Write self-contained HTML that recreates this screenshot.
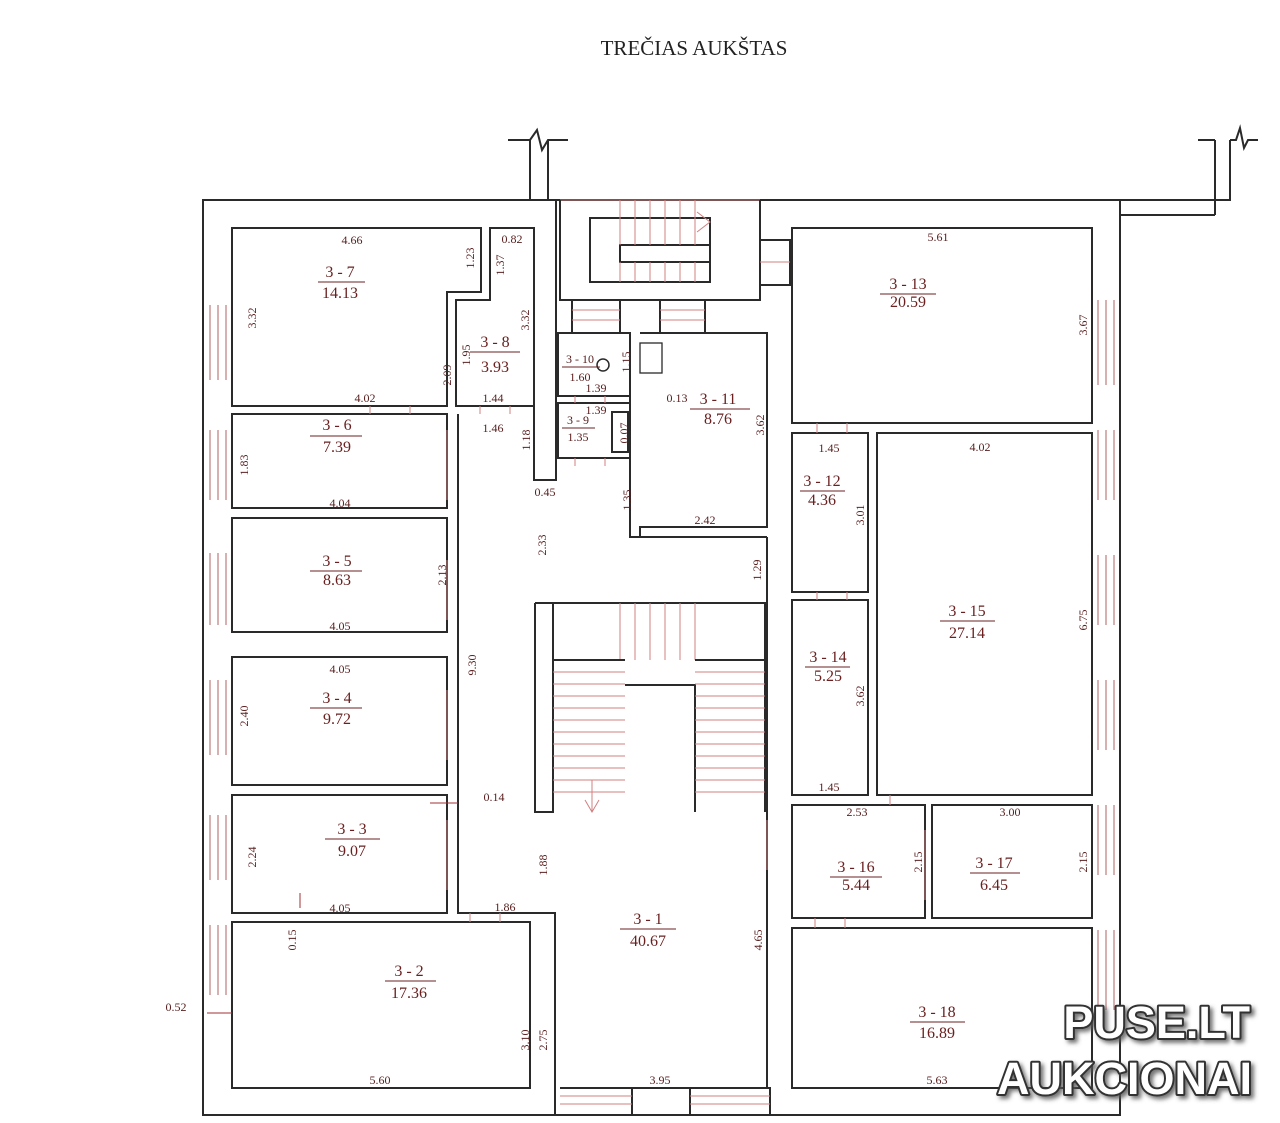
<!DOCTYPE html>
<html><head><meta charset="utf-8"><style>
body{margin:0;background:#fff;width:1280px;height:1123px;overflow:hidden}
svg{display:block}
.w{fill:none;stroke:#2a2a2a;stroke-width:2}
.r{fill:none;stroke:#d08080;stroke-width:1}
.t{font-family:"Liberation Serif",serif;font-size:16px;fill:#6a2020;text-anchor:middle}
.d{font-family:"Liberation Serif",serif;font-size:12px;fill:#5a2020;text-anchor:middle}
.wm{font-family:"Liberation Sans",sans-serif;font-weight:bold;font-size:45px;fill:#fff;stroke:#333;stroke-width:4;stroke-linejoin:round;paint-order:stroke;text-anchor:end}
</style></head><body>
<svg width="1280" height="1123" viewBox="0 0 1280 1123">
<defs><filter id="sh" x="-10%" y="-10%" width="130%" height="140%"><feDropShadow dx="3" dy="3" stdDeviation="2" flood-color="#555" flood-opacity="0.8"/></filter></defs>
<text x="694" y="55" style="font-family:'Liberation Serif',serif;font-size:21px;fill:#222" text-anchor="middle">TREČIAS AUKŠTAS</text>
<path class="w" d="M530 200V140M548 200V140M508 140H530L537 130L542 150L548 140H568"/>
<path class="w" d="M1120 200H1230V140M1120 215H1215M1230 140H1236L1240 128L1244 148L1248 140H1258M1215 140V215M1198 140H1215"/>
<path class="w" d="M203 200H1120V1115H203Z"/>
<path class="r" d="M560 200H760"/>
<path class="w" d="M232 228H481V292H447V406H232Z"/>
<path class="w" d="M490 228H534V406H456V300H490Z"/>
<path class="w" d="M534 228V480H556V200"/>
<rect class="w" x="232" y="414" width="215" height="94"/>
<rect class="w" x="232" y="518" width="215" height="114"/>
<rect class="w" x="232" y="657" width="215" height="128"/>
<rect class="w" x="232" y="795" width="215" height="118"/>
<path class="w" d="M458 414V913H555V1115M232 922H530V1088H232Z"/>
<path class="w" d="M560 200V300H760V200M590 218H710V282H590ZM620 245H710V262H620Z"/>
<path class="r" d="M620 200V245M635 200V245M650 200V245M665 200V245M680 200V245M695 200V245M620 262V282M635 262V282M650 262V282M665 262V282M680 262V282M695 262V282M697 212L710 222L697 232"/>
<path class="w" d="M760 240H790V285H760"/><path class="r" d="M760 262H790"/>
<path class="w" d="M572 300V333M620 300V333M660 300V333M705 300V333"/>
<path class="r" d="M572 310H620M572 320H620M660 310H705M660 320H705"/>
<rect class="w" x="558" y="333" width="72" height="63"/>
<rect class="w" x="558" y="403" width="72" height="55"/>
<rect class="w" x="612" y="412" width="16" height="40"/>
<circle class="w" cx="603" cy="365" r="6" style="stroke-width:1.5"/>
<rect class="w" x="640" y="343" width="22" height="30" style="stroke-width:1.3"/>
<path class="w" d="M640 333H767V527H640V537H767"/>
<path class="w" d="M630 396V537H640"/>
<path class="w" d="M535 603H765V812M535 603V812H553V603M625 685H695V812"/>
<path class="r" d="M553 660H625M553 672H625M553 684H625M553 696H625M553 708H625M553 720H625M553 732H625M553 744H625M553 756H625M553 768H625M553 780H625M553 792H625M695 660H765M695 672H765M695 684H765M695 696H765M695 708H765M695 720H765M695 732H765M695 744H765M695 756H765M695 768H765M695 780H765M695 792H765M620 603V660M635 603V660M650 603V660M665 603V660M680 603V660M695 603V660M585 800L592 812L599 800M592 780V812"/>
<path class="w" d="M553 660H625M695 660H765"/>
<path class="w" d="M560 1088H770V1115M632 1088V1115M690 1088V1115"/>
<path class="r" d="M560 1096H632M560 1104H632M690 1096H770M690 1104H770"/>
<path class="w" d="M767 537V1088"/>
<rect class="w" x="792" y="228" width="300" height="195"/>
<rect class="w" x="792" y="433" width="76" height="159"/>
<rect class="w" x="792" y="600" width="76" height="195"/>
<rect class="w" x="877" y="433" width="215" height="362"/>
<rect class="w" x="792" y="805" width="133" height="113"/>
<rect class="w" x="932" y="805" width="160" height="113"/>
<rect class="w" x="792" y="928" width="300" height="160"/>
<g class="r" style="stroke:#b06060">
<path d="M210 305V380M218 305V380M226 305V380M210 430V500M218 430V500M226 430V500M210 553V625M218 553V625M226 553V625M210 680V755M218 680V755M226 680V755M210 815V880M218 815V880M226 815V880M210 925V995M218 925V995M226 925V995"/>
<path d="M1098 300V385M1106 300V385M1114 300V385M1098 430V500M1106 430V500M1114 430V500M1098 555V625M1106 555V625M1114 555V625M1098 680V750M1106 680V750M1114 680V750M1098 805V875M1106 805V875M1114 805V875M1098 930V1010M1106 930V1010M1114 930V1010"/>
</g>
<path class="r" d="M370 406V414M410 406V414M480 406V414M510 406V414M447 430V500M447 560V620M447 690V760M447 820V890M470 913V922M500 913V922M767 820V870M817 423V433M847 423V433M817 592V600M847 592V600M890 795V805M815 918V928M845 918V928M925 830V900M575 396V403M605 396V403M575 458V466M605 458V466"/>
<g class="t">
<text x="340" y="277">3 - 7</text><text x="340" y="298">14.13</text>
<text x="495" y="347">3 - 8</text><text x="495" y="372">3.93</text>
<text x="337" y="430">3 - 6</text><text x="337" y="452">7.39</text>
<text x="337" y="566">3 - 5</text><text x="337" y="585">8.63</text>
<text x="337" y="703">3 - 4</text><text x="337" y="724">9.72</text>
<text x="352" y="834">3 - 3</text><text x="352" y="856">9.07</text>
<text x="409" y="976">3 - 2</text><text x="409" y="998">17.36</text>
<text x="648" y="924">3 - 1</text><text x="648" y="946">40.67</text>
<text x="718" y="404">3 - 11</text><text x="718" y="424">8.76</text>
<text x="908" y="289">3 - 13</text><text x="908" y="307">20.59</text>
<text x="822" y="486">3 - 12</text><text x="822" y="505">4.36</text>
<text x="967" y="616">3 - 15</text><text x="967" y="638">27.14</text>
<text x="828" y="662">3 - 14</text><text x="828" y="681">5.25</text>
<text x="856" y="872">3 - 16</text><text x="856" y="890">5.44</text>
<text x="994" y="868">3 - 17</text><text x="994" y="890">6.45</text>
<text x="937" y="1017">3 - 18</text><text x="937" y="1038">16.89</text>
</g>
<g class="d">
<text x="580" y="363">3 - 10</text><text x="580" y="381">1.60</text>
<text x="578" y="424">3 - 9</text><text x="578" y="441">1.35</text>
</g>
<path stroke="#6a2020" stroke-width="1" d="M318 282H365M470 352H520M310 436H362M310 571H362M310 708H362M325 839H380M385 981H436M620 929H676M690 409H750M880 294H936M800 491H845M940 621H995M805 667H850M830 877H882M970 873H1020M910 1022H965M562 367H600M562 428H595"/>
<g class="d">
<text x="352" y="244">4.66</text><text x="365" y="402">4.02</text><text x="512" y="243">0.82</text>
<text x="493" y="402">1.44</text><text x="493" y="432">1.46</text><text x="545" y="496">0.45</text>
<text x="340" y="507">4.04</text><text x="340" y="630">4.05</text><text x="340" y="673">4.05</text>
<text x="494" y="801">0.14</text><text x="340" y="912">4.05</text><text x="505" y="911">1.86</text>
<text x="176" y="1011">0.52</text><text x="380" y="1084">5.60</text><text x="660" y="1084">3.95</text>
<text x="705" y="524">2.42</text><text x="677" y="402">0.13</text><text x="596" y="392">1.39</text><text x="596" y="414">1.39</text>
<text x="938" y="241">5.61</text><text x="829" y="452">1.45</text><text x="980" y="451">4.02</text>
<text x="829" y="791">1.45</text><text x="857" y="816">2.53</text><text x="1010" y="816">3.00</text><text x="937" y="1084">5.63</text>
</g>
<g class="d">
<text transform="translate(256,318) rotate(-90)">3.32</text>
<text transform="translate(474,258) rotate(-90)">1.23</text>
<text transform="translate(504,265) rotate(-90)">1.37</text>
<text transform="translate(451,375) rotate(-90)">2.09</text>
<text transform="translate(470,355) rotate(-90)">1.95</text>
<text transform="translate(529,320) rotate(-90)">3.32</text>
<text transform="translate(530,440) rotate(-90)">1.18</text>
<text transform="translate(248,465) rotate(-90)">1.83</text>
<text transform="translate(446,575) rotate(-90)">2.13</text>
<text transform="translate(248,716) rotate(-90)">2.40</text>
<text transform="translate(476,665) rotate(-90)">9.30</text>
<text transform="translate(546,545) rotate(-90)">2.33</text>
<text transform="translate(256,857) rotate(-90)">2.24</text>
<text transform="translate(547,865) rotate(-90)">1.88</text>
<text transform="translate(296,940) rotate(-90)">0.15</text>
<text transform="translate(529,1040) rotate(-90)">3.10</text>
<text transform="translate(547,1040) rotate(-90)">2.75</text>
<text transform="translate(762,940) rotate(-90)">4.65</text>
<text transform="translate(761,570) rotate(-90)">1.29</text>
<text transform="translate(631,500) rotate(-90)">1.35</text>
<text transform="translate(764,425) rotate(-90)">3.62</text>
<text transform="translate(628,433) rotate(-90)">0.07</text>
<text transform="translate(630,362) rotate(-90)">1.15</text>
<text transform="translate(1087,325) rotate(-90)">3.67</text>
<text transform="translate(864,515) rotate(-90)">3.01</text>
<text transform="translate(1087,620) rotate(-90)">6.75</text>
<text transform="translate(864,696) rotate(-90)">3.62</text>
<text transform="translate(922,862) rotate(-90)">2.15</text>
<text transform="translate(1087,862) rotate(-90)">2.15</text>
</g>
<path stroke="#a03030" d="M430 803H458M300 893V908M207 1013H232"/>
<g filter="url(#sh)">
<text class="wm" x="1250" y="1038">PUSE.LT</text>
<text class="wm" x="1252" y="1094">AUKCIONAI</text>
</g>
</svg>
</body></html>
